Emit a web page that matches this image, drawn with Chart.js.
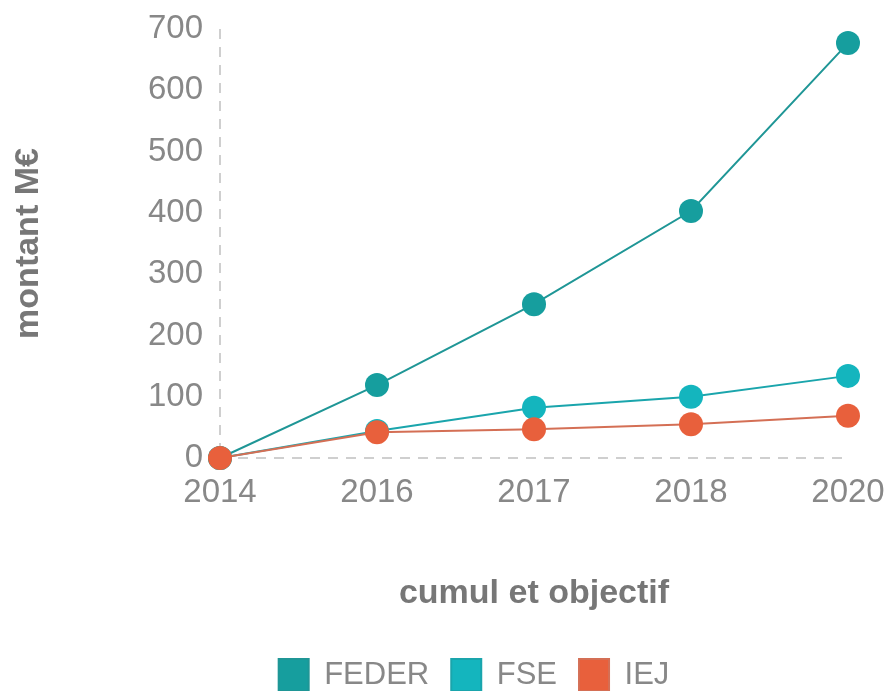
<!DOCTYPE html>
<html>
<head>
<meta charset="utf-8">
<script src="https://cdn.jsdelivr.net/npm/chart.js@4/dist/chart.umd.min.js"></script>
<style>
  html, body { margin: 0; padding: 0; background: #fff; }
</style>
</head>
<body>
<canvas id="chart" width="892" height="691"></canvas>
<script>
var years = ['2014', '2016', '2017', '2018', '2020'];
var feder = [0, 119, 251, 403, 677];
var fse = [0, 44, 82, 100, 134];
var iej = [0, 42, 47, 55, 69];

var fam = 'Liberation Sans, Arial, sans-serif';
var titleFont = { family: fam, size: 34, weight: 'bold' };

// only the first grid line (axis at 2014 / at 0) is drawn, dashed
function firstLine(c) { return c.index === 0 ? '#cfcfcf' : 'rgba(0,0,0,0)'; }

// move the legend right and down, like the original
var shiftLegend = {
  id: 'shiftLegend',
  afterLayout: function(chart) {
    var l = chart.legend;
    l.left += 50; l.right += 50;
    l.top += 10; l.bottom += 10;
  }
};

var ctx = document.getElementById('chart');
new Chart(ctx, {
  type: 'line',
  data: {
    labels: years,
    datasets: [
      { label: 'FEDER', data: feder, order: 3,
        borderColor: '#1f9696', backgroundColor: '#169e9e',
        pointBackgroundColor: '#169e9e', pointBorderColor: '#169e9e' },
      { label: 'FSE', data: fse, order: 2,
        borderColor: '#1aa5ac', backgroundColor: '#14b5be',
        pointBackgroundColor: '#14b5be', pointBorderColor: '#14b5be' },
      { label: 'IEJ', data: iej, order: 1,
        borderColor: '#d46f55', backgroundColor: '#e8603c',
        pointBackgroundColor: '#e8603c', pointBorderColor: '#e8603c' }
    ]
  },
  options: {
    responsive: false,
    animation: false,
    clip: false,
    layout: { padding: { top: 29, right: 44, left: 0, bottom: 0 } },
    elements: {
      line: { borderWidth: 2, tension: 0 },
      point: { radius: 12, hoverRadius: 12, borderWidth: 0 }
    },
    plugins: {
      tooltip: { enabled: false },
      legend: {
        position: 'bottom',
        labels: {
          font: { family: fam, size: 31 },
          color: '#888',
          boxWidth: 30,
          boxHeight: 32,
          padding: 22,
          sort: function(a, b) { return a.datasetIndex - b.datasetIndex; }
        }
      }
    },
    scales: {
      x: {
        grid: { display: true, drawTicks: false, lineWidth: 2, color: firstLine },
        border: { display: false, dash: [10, 8] },
        ticks: { color: '#888', font: { family: fam, size: 33, lineHeight: 1.88 },
                 padding: 4, maxRotation: 0 },
        title: { display: true, text: 'cumul et objectif', color: '#777',
                 font: titleFont, padding: { top: 4, bottom: 13 } },
        afterFit: function(s) { s.height = 169; }
      },
      y: {
        min: 0, max: 700,
        grid: { display: true, drawTicks: false, lineWidth: 2, color: firstLine },
        border: { display: false, dash: [10, 8] },
        ticks: { color: '#888', font: { family: fam, size: 33, lineHeight: 0.5 },
                 padding: 17, stepSize: 100 },
        title: { display: true, text: 'montant M€', color: '#777',
                 font: titleFont, padding: { top: 8, bottom: 4 } },
        afterFit: function(s) { s.width = 220; }
      }
    }
  },
  plugins: [shiftLegend]
});
</script>
</body>
</html>
